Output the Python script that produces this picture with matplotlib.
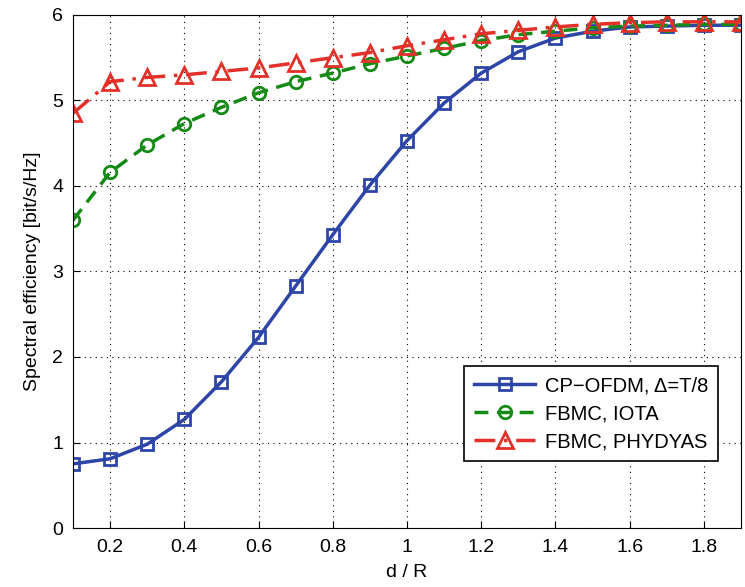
import numpy as np
import matplotlib.pyplot as plt

plt.rcParams['font.family'] = ['Liberation Sans', 'DejaVu Sans']

d_R = [0.1, 0.2, 0.3, 0.4, 0.5, 0.6, 0.7, 0.8, 0.9, 1.0,
       1.1, 1.2, 1.3, 1.4, 1.5, 1.6, 1.7, 1.8, 1.9]
cp_ofdm = [0.75, 0.81, 0.98, 1.27, 1.71, 2.23, 2.83, 3.43, 4.01, 4.53,
           4.97, 5.32, 5.57, 5.73, 5.81, 5.86, 5.87, 5.88, 5.88]
fbmc_iota = [3.60, 4.16, 4.48, 4.73, 4.92, 5.09, 5.22, 5.32, 5.43, 5.52,
             5.61, 5.70, 5.77, 5.81, 5.85, 5.87, 5.88, 5.89, 5.89]
fbmc_phydyas = [4.85, 5.22, 5.27, 5.30, 5.34, 5.38, 5.44, 5.50, 5.56, 5.64,
                5.71, 5.78, 5.82, 5.86, 5.89, 5.91, 5.92, 5.92, 5.92]

fig = plt.figure(figsize=(7.45, 5.87), dpi=100)
ax = fig.add_axes([0.098, 0.1005, 0.8966, 0.874])

ax.plot(d_R, cp_ofdm, '-', color='#2e45a8', lw=2.5, marker='s', ms=8,
        mfc='none', mew=2, label='CP\u2212OFDM, \u0394=T/8')
ax.plot(d_R, fbmc_iota, '--', color='#168a16', lw=2.5, marker='o', ms=9,
        mfc='none', mew=2, dashes=(4, 2.5), label='FBMC, IOTA')
ax.plot(d_R, fbmc_phydyas, color='#e3312a', lw=2.5, marker='^', ms=12,
        mfc='none', mew=2, dashes=(6, 2.5, 1, 2.5), label='FBMC, PHYDYAS')

ax.set_xlim(0.1, 1.9)
ax.set_ylim(0, 6)
ax.set_xticks(np.arange(0.2, 1.81, 0.2))
ax.set_xticklabels(['0.2', '0.4', '0.6', '0.8', '1', '1.2', '1.4', '1.6', '1.8'])
ax.set_yticks(range(0, 7))
ax.tick_params(direction='in', labelsize=14, length=5)
ax.tick_params(axis='x', pad=8)
ax.tick_params(axis='y', pad=7)
ax.grid(True, color='black', linestyle=(0, (1, 4)), lw=0.8)
ax.set_xlabel('d / R', fontsize=14, labelpad=6)
ax.set_ylabel('Spectral efficiency [bit/s/Hz]', fontsize=14, labelpad=8)

leg = ax.legend(loc='lower right', bbox_to_anchor=(0.966, 0.13), fontsize=14.5,
                fancybox=False, edgecolor='black', framealpha=1,
                handlelength=3, borderpad=0.5, labelspacing=0.45,
                handletextpad=0.5, borderaxespad=0)
leg.get_frame().set_linewidth(1.2)

fig.savefig('out.png')
